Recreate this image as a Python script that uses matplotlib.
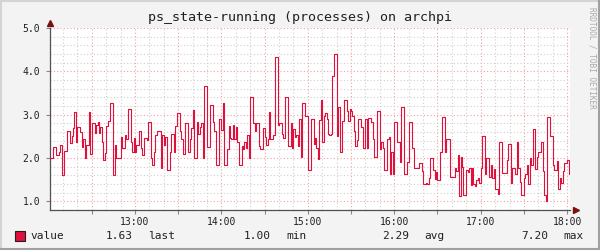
import numpy as np
import matplotlib
matplotlib.use('Agg')
import matplotlib.pyplot as plt
from matplotlib.ticker import MultipleLocator, FuncFormatter
from matplotlib.lines import Line2D

# datos: procesos en estado running, una muestra por minuto desde las 12:01
start_hour = 12 + 1 / 60
step_min = 1
running = [
    2.0, 2.0, 2.26, 2.26, 2.06, 2.06, 2.13, 2.29, 1.6, 1.6, 2.16, 2.16, 2.62, 2.62, 2.34,
    2.5, 2.7, 3.07, 2.38, 2.72, 2.72, 2.6, 2.26, 2.44, 2.0, 2.3, 2.3, 3.07, 2.1, 2.8,
    2.8, 2.58, 2.77, 2.84, 2.58, 2.72, 2.38, 1.96, 2.12, 2.74, 2.85, 2.85, 3.28, 3.28, 1.6,
    2.31, 1.99, 1.99, 1.99, 2.49, 2.22, 2.22, 2.54, 2.43, 3.14, 3.14, 2.37, 2.14, 2.46, 2.13,
    2.3, 2.3, 2.62, 2.22, 2.08, 2.46, 2.46, 2.41, 2.83, 2.83, 1.99, 1.85, 2.13, 2.54, 2.62,
    2.62, 2.62, 1.76, 2.54, 2.31, 2.49, 1.72, 1.72, 2.13, 2.56, 2.56, 2.13, 2.74, 3.03, 3.03,
    2.62, 2.45, 2.1, 2.1, 2.8, 2.8, 2.13, 2.43, 2.69, 3.1, 1.99, 1.99, 2.83, 2.56, 2.72,
    2.8, 1.99, 3.67, 3.67, 2.26, 2.26, 3.23, 3.23, 2.82, 2.62, 1.85, 1.85, 2.91, 2.91, 2.64,
    3.28, 1.85, 1.85, 2.2, 2.73, 2.46, 2.43, 2.76, 2.43, 2.72, 2.36, 1.85, 1.85, 2.28, 2.2,
    2.36, 2.22, 2.54, 1.99, 3.41, 3.41, 2.8, 2.62, 2.8, 2.8, 2.28, 2.2, 2.2, 2.69, 2.49,
    2.31, 2.43, 3.07, 2.43, 2.43, 2.54, 4.34, 4.34, 2.76, 2.8, 2.8, 2.56, 2.46, 3.41, 3.41,
    2.28, 2.28, 2.8, 2.22, 2.68, 2.49, 2.54, 2.28, 2.91, 2.03, 3.28, 3.28, 2.97, 2.97, 1.72,
    1.72, 2.91, 2.91, 2.33, 2.46, 2.22, 1.97, 2.87, 3.33, 2.36, 2.97, 3.03, 2.91, 2.56, 2.54,
    2.56, 3.9, 4.39, 4.39, 2.51, 3.18, 2.13, 2.13, 2.85, 3.33, 3.33, 3.08, 2.85, 3.14, 3.08,
    2.97, 2.62, 2.28, 2.41, 2.91, 2.91, 2.72, 2.22, 2.22, 2.91, 2.22, 2.93, 2.93, 2.83, 2.45,
    2.03, 2.03, 3.08, 3.08, 2.2, 2.36, 2.23, 1.72, 1.72, 2.45, 2.49, 1.64, 2.13, 1.62, 2.83,
    2.83, 2.37, 2.37, 1.91, 3.18, 3.18, 1.62, 1.62, 1.91, 2.83, 2.83, 2.23, 2.23, 1.76, 1.76,
    1.77, 1.89, 1.89, 1.69, 1.39, 1.39, 1.43, 1.39, 1.54, 2.0, 2.0, 1.72, 1.51, 1.68, 1.49,
    1.49, 2.13, 2.95, 2.95, 2.13, 2.43, 2.43, 2.43, 1.56, 1.56, 1.56, 1.76, 1.69, 2.08, 1.12,
    2.03, 1.79, 1.14, 1.14, 1.72, 1.68, 1.76, 1.37, 1.77, 1.41, 1.35, 1.49, 1.54, 1.43, 1.77,
    2.51, 2.51, 1.62, 2.0, 2.0, 1.56, 1.85, 1.54, 1.74, 1.28, 1.28, 1.18, 2.36, 2.36, 1.66,
    1.66, 1.66, 1.95, 2.33, 2.33, 1.43, 1.76, 1.76, 1.62, 2.36, 1.76, 1.45, 1.15, 1.15, 1.54,
    1.64, 1.85, 1.39, 2.0, 1.85, 2.68, 2.68, 1.74, 2.03, 2.13, 2.13, 2.36, 1.69, 1.14, 1.0,
    2.95, 2.95, 2.51, 2.51, 1.85, 1.72, 1.72, 1.93, 1.28, 1.54, 1.43, 1.69, 1.89, 1.89, 1.95,
    1.62, 1.62,
]
hour_labels = ['13:00', '14:00', '15:00', '16:00', '17:00', '18:00']
titulo = 'ps_state-running (processes) on archpi'
leyenda = [('1.63', 'last'), ('1.00', 'min'), ('2.29', 'avg'), ('7.20', 'max')]

ROJO = '#E0103C'
FONDO = '#F3F3F3'
mono = 'DejaVu Sans Mono'

t = start_hour + np.arange(len(running) + 1) * step_min / 60
v = np.append(running, running[-1])

fig = plt.figure(figsize=(6, 2.5), dpi=100, facecolor=FONDO)
ax = fig.add_axes([50 / 600, 40 / 250, 520 / 600, 182 / 250])
ax.set_facecolor('white')

ax.step(t, v, where='post', color=ROJO, lw=0.8, zorder=3)

ax.set_xlim(start_hour, 18 + 2 / 60)
ax.set_ylim(0.8, 5.0)

# rejilla estilo rrdtool
ax.xaxis.set_major_locator(MultipleLocator(0.5))
ax.xaxis.set_minor_locator(MultipleLocator(1 / 6))
ax.yaxis.set_major_locator(MultipleLocator(1.0))
ax.yaxis.set_minor_locator(MultipleLocator(0.2))
ax.grid(which='minor', color='#CFCFCF', ls=(0, (1, 2)), lw=0.8)
ax.grid(which='major', color='#F0A0A0', ls=(0, (1, 2)), lw=0.8)
ax.set_axisbelow(True)

def fmt_hora(x, pos):
    h = int(round(x))
    if abs(x - h) < 1e-6 and 13 <= h <= 18:
        return hour_labels[h - 13]
    return ''

ax.xaxis.set_major_formatter(FuncFormatter(fmt_hora))
ax.yaxis.set_major_formatter(FuncFormatter(lambda y, p: f'{y:.1f}'))
ax.tick_params(which='major', length=3, width=0.8, color='#888888', labelsize=7)
ax.tick_params(axis='x', which='major', pad=2)
ax.tick_params(axis='y', which='major', pad=4)
ax.tick_params(which='minor', length=0)
for lab in ax.get_xticklabels() + ax.get_yticklabels():
    lab.set_fontfamily(mono)
    lab.set_color('#202020')

for s in ['top', 'right']:
    ax.spines[s].set_visible(False)
for s in ['left', 'bottom']:
    ax.spines[s].set_color('#505050')
    ax.spines[s].set_linewidth(0.9)

# flechas de los ejes
ax.plot([0], [1.03], marker='^', ms=4, color='#7A1010', transform=ax.transAxes, clip_on=False)
ax.plot([1.012], [0], marker='>', ms=4, color='#7A1010', transform=ax.transAxes, clip_on=False)

fig.text(300 / 600, 1 - 18 / 250, titulo, ha='center', va='center',
         fontsize=9.6, family=mono, color='#202020')
fig.text(592 / 600, 1 - 58 / 250, 'RRDTOOL / TOBI OETIKER', rotation=-90,
         ha='center', va='center', fontsize=5.6, family=mono, color='#AAAAAA')

# leyenda
ly = 1 - 236 / 250
fig.patches.append(plt.Rectangle((15 / 600, 1 - 241 / 250), 10 / 600, 10 / 250,
                                 transform=fig.transFigure, facecolor=ROJO,
                                 edgecolor='#202020', lw=0.8))
fig.text(30 / 600, ly, 'value', ha='left', va='center', fontsize=8, family=mono, color='#202020')
num_fin = [133, 271, 409, 548]
lab_ini = [148, 286, 424, 563]
for (num, lab), xn, xl in zip(leyenda, num_fin, lab_ini):
    fig.text(xn / 600, ly, num, ha='right', va='center', fontsize=8, family=mono, color='#202020')
    fig.text(xl / 600, ly, lab, ha='left', va='center', fontsize=8, family=mono, color='#202020')

# marco exterior
fig.add_artist(Line2D([0, 1], [0.996, 0.996], color='#D4D4D4', lw=1.5, transform=fig.transFigure))
fig.add_artist(Line2D([0.002, 0.002], [0, 1], color='#D4D4D4', lw=1.5, transform=fig.transFigure))
fig.add_artist(Line2D([0, 1], [0.004, 0.004], color='#A0A0A0', lw=1.5, transform=fig.transFigure))
fig.add_artist(Line2D([0.998, 0.998], [0, 1], color='#A0A0A0', lw=1.5, transform=fig.transFigure))

fig.savefig('out.png', dpi=100, facecolor=FONDO)
